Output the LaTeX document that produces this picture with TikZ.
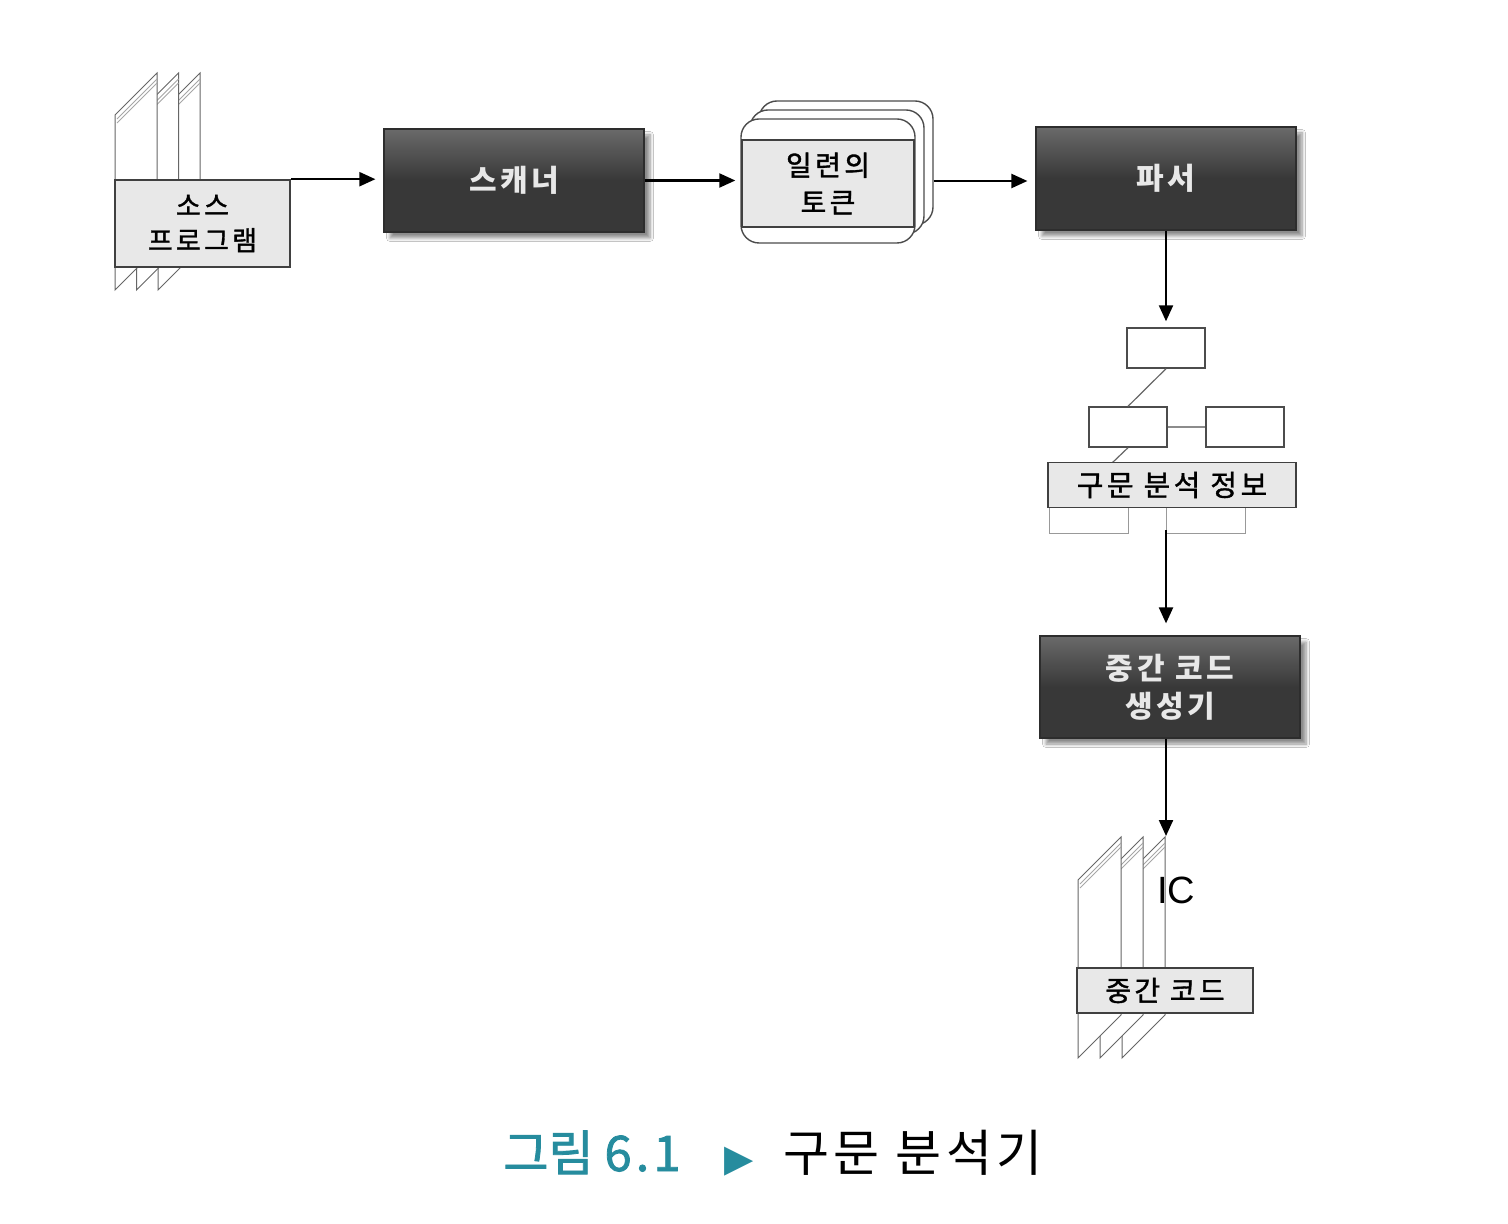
\documentclass[tikz,border=0pt]{standalone}
\usepackage{fontspec}
\newfontfamily\kr{Noto Sans CJK KR}
\newfontfamily\krcap[LetterSpace=9]{Noto Sans CJK KR}
\newfontfamily\krteal[FakeBold=1.6]{Noto Sans CJK KR}
\newfontfamily\krs[LetterSpace=12]{Noto Sans CJK KR}
\newfontfamily\krm[LetterSpace=12,FakeBold=1.3]{Noto Sans CJK KR}
\newfontfamily\ltn{Liberation Sans}
\newfontfamily\sym{DejaVu Sans}
\usetikzlibrary{arrows.meta,shadows.blur}
\definecolor{tealcap}{RGB}{38,140,158}
\definecolor{boxdark}{RGB}{56,56,56}
\definecolor{lbl}{RGB}{232,232,232}
\begin{document}
\begin{tikzpicture}[x=0.5pt,y=-0.5pt,
  darkbox/.style={top color=boxdark!75!white, bottom color=boxdark, middle color=boxdark,
    draw=boxdark!80!black, line width=0.6pt,
    blur shadow={shadow xshift=3pt,shadow yshift=-3pt,shadow opacity=45,shadow blur steps=6},
    text=gray!18, font=\krs\bfseries\fontsize{15}{19}\selectfont, align=center, inner sep=0pt,
    minimum width=130pt, minimum height=51.5pt},
  labelbox/.style={fill=lbl, draw=black!75, line width=0.8pt,
    font=\krm\fontsize{13.5}{17.5}\selectfont, align=center, inner sep=0pt},
  sheet/.style={fill=white, draw=black!60, line width=0.5pt},
  fold/.style={draw=black!35, line width=0.4pt},
  tokcard/.style={fill=white, draw=black!70, line width=0.7pt, rounded corners=9pt,
    minimum width=87pt, minimum height=62pt, inner sep=0pt},
  treebox/.style={fill=white, draw=black!70, line width=0.7pt, minimum width=39pt, minimum height=20pt, inner sep=0pt},
  subbox/.style={fill=white, draw=black!40, line width=0.5pt, minimum width=39.5pt, minimum height=16pt, inner sep=0pt},
  treeline/.style={draw=black!60, line width=0.6pt},
  arr/.style={line width=1.1pt, -{Triangle[length=8pt,width=7pt]}}
]
\useasboundingbox (0,0) rectangle (1508,1224);
\fill[white] (0,0) rectangle (1508,1224);

% ---------- source program stack
\foreach \i in {2,1,0}{
  \pgfmathsetmacro\xl{115+21.5*\i}
  \pgfmathsetmacro\xr{\xl+42}
  \filldraw[sheet] (\xl,115) -- (\xr,73) -- (\xr,248) -- (\xl,290) -- cycle;
  \draw[fold] (\xl+2,119) -- (\xr,79);
  \draw[fold] (\xl+2,123) -- (\xr,83);
}
\node[labelbox, minimum width=87.5pt, minimum height=43.5pt] (src) at (202.5,223.5) {소스\\프로그램};

% ---------- scanner
\node[darkbox] (scan) at (514,180.5) {스캐너};

% ---------- tokens
\node[tokcard] (tokb2) at (846,163) {};
\node[tokcard] (tokb1) at (837,172) {};
\node[tokcard] (tokf) at (828,181) {};
\node[labelbox, line width=0.7pt, minimum width=86pt, minimum height=43.5pt, font=\krm\fontsize{14}{18.5}\selectfont] (tok) at (828,183.5) {일련의\\토큰};

% ---------- parser
\node[darkbox] (parse) at (1166,178.5) {파서};

% ---------- tree
\node[treebox] (ttop) at (1166,348) {};
\node[treebox] (tl) at (1128,427) {};
\node[treebox] (tr) at (1245,427) {};
\draw[treeline] (ttop.south) -- (tl.north);
\draw[draw=black!45, line width=1.1pt] (tl.east) -- (tr.west);
\node[subbox] (subl) at (1089,517) {};
\node[subbox] (subr) at (1206,517) {};
\coordinate (infotap) at (1112,463);
\draw[treeline] (tl.south) -- (infotap);
\node[labelbox, minimum width=124pt, minimum height=22.5pt, font=\krm\fontsize{14.5}{18}\selectfont] (info) at (1172,485) {구문 분석 정보};
\coordinate (infoout) at (1166,530);

% ---------- intermediate code generator
\node[darkbox, minimum height=51pt] (icg) at (1170,687) {중간 코드\\생성기};

% ---------- IC stack
\foreach \i in {2,1,0}{
  \pgfmathsetmacro\xl{1078+22*\i}
  \pgfmathsetmacro\xr{\xl+43}
  \filldraw[sheet] (\xl,880) -- (\xr,837) -- (\xr,1015) -- (\xl,1058) -- cycle;
  \draw[fold] (\xl+2,884) -- (\xr,843);
  \draw[fold] (\xl+2,888) -- (\xr,847);
}
\coordinate (icin) at (1166,836);
\node[font=\ltn\fontsize{19}{19}\selectfont] (ic) at (1176,890) {IC};
\node[labelbox, minimum width=88pt, minimum height=22.5pt, font=\krm\fontsize{14}{18}\selectfont] (icl) at (1165,990.5) {중간 코드};

% ---------- arrows
\draw[arr, shorten >=4pt] (src.north east) -- (src.north east -| scan.west);
\draw[arr, shorten >=2.5pt] (scan.east) -- (scan.east -| tokf.west);
\draw[arr, shorten >=4pt] (tokb2.east |- tokf.east) -- (parse.west |- tokf.east);
\draw[arr, shorten >=3pt] (parse.south) -- (parse.south |- ttop.north);
\draw[arr, shorten >=6pt] (infoout) -- (infoout |- icg.north);
\draw[arr] (icg.south -| icin) -- (icin);

% ---------- caption
\node[anchor=base west, inner sep=0pt, text=tealcap, font=\krteal\fontsize{24.5}{24}\selectfont] (capa) at (503,1171) {그림 6\hspace{2pt}.\hspace{2pt}1\hspace{22pt}{\sym\fontsize{19}{19}\selectfont ▶}};
\node[anchor=base west, inner sep=0pt, font=\krcap\fontsize{25}{25}\selectfont] (capb) at (783,1171) {구문 분석기};
\end{tikzpicture}
\end{document}
